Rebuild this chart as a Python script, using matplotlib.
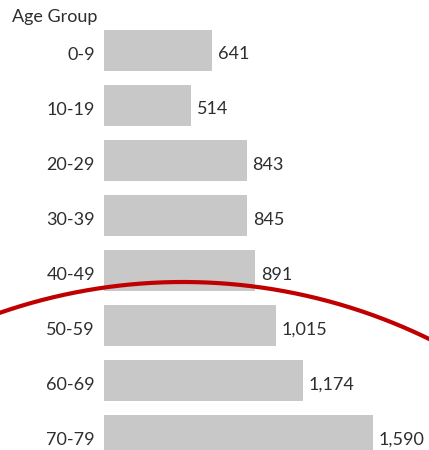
import numpy as np
import matplotlib
matplotlib.use("Agg")
import matplotlib.pyplot as plt
from matplotlib.lines import Line2D

categories = ["0-9", "10-19", "20-29", "30-39", "40-49", "50-59", "60-69", "70-79"]
values = [641, 514, 843, 845, 891, 1015, 1174, 1590]
header = "Age Group"

W, H = 429, 450
fig = plt.figure(figsize=(W / 100, H / 100), dpi=100)
plt.rcParams['font.family'] = ['Lato', 'DejaVu Sans']

# axes: x starts at px 104, 1590 ends at px 373
ax_left_px = 104
ax = fig.add_axes([ax_left_px / W, 0, (W - ax_left_px) / W, 1])
px_per_unit = (373 - 104) / 1590
ax.set_xlim(0, (W - ax_left_px) / px_per_unit)
row_px = 55.07
first_center = 50
ax.set_ylim((H - first_center) / row_px, -first_center / row_px)

y = np.arange(len(categories))
ax.barh(y, values, height=41 / row_px, color="#c8c8c8", edgecolor="none")
ax.axis("off")

txt_color = "#2e2e2e"
fs = 13
for yi, v, c in zip(y, values, categories):
    ax.text(v + 6 / px_per_unit, yi + 0.08, f"{v:,}", va="center", ha="left",
            fontsize=fs, color=txt_color)
    ax.text(-9 / px_per_unit, yi + 0.09, c, va="center", ha="right",
            fontsize=fs, color=txt_color, clip_on=False)

fig.text(97 / W, 1 - 17 / H, header, ha="right", va="center", fontsize=fs, color=txt_color)

# red arc annotation (circle in pixel space)
cx, cy, R = 183, 842, 560
xs = np.linspace(-5, W + 5, 400)
ys = cy - np.sqrt(R**2 - (xs - cx) ** 2)
fig.add_artist(Line2D(xs / W, 1 - ys / H, transform=fig.transFigure,
                      color="#c00000", lw=3.0, solid_capstyle="butt"))

fig.savefig("out.png", dpi=100)
